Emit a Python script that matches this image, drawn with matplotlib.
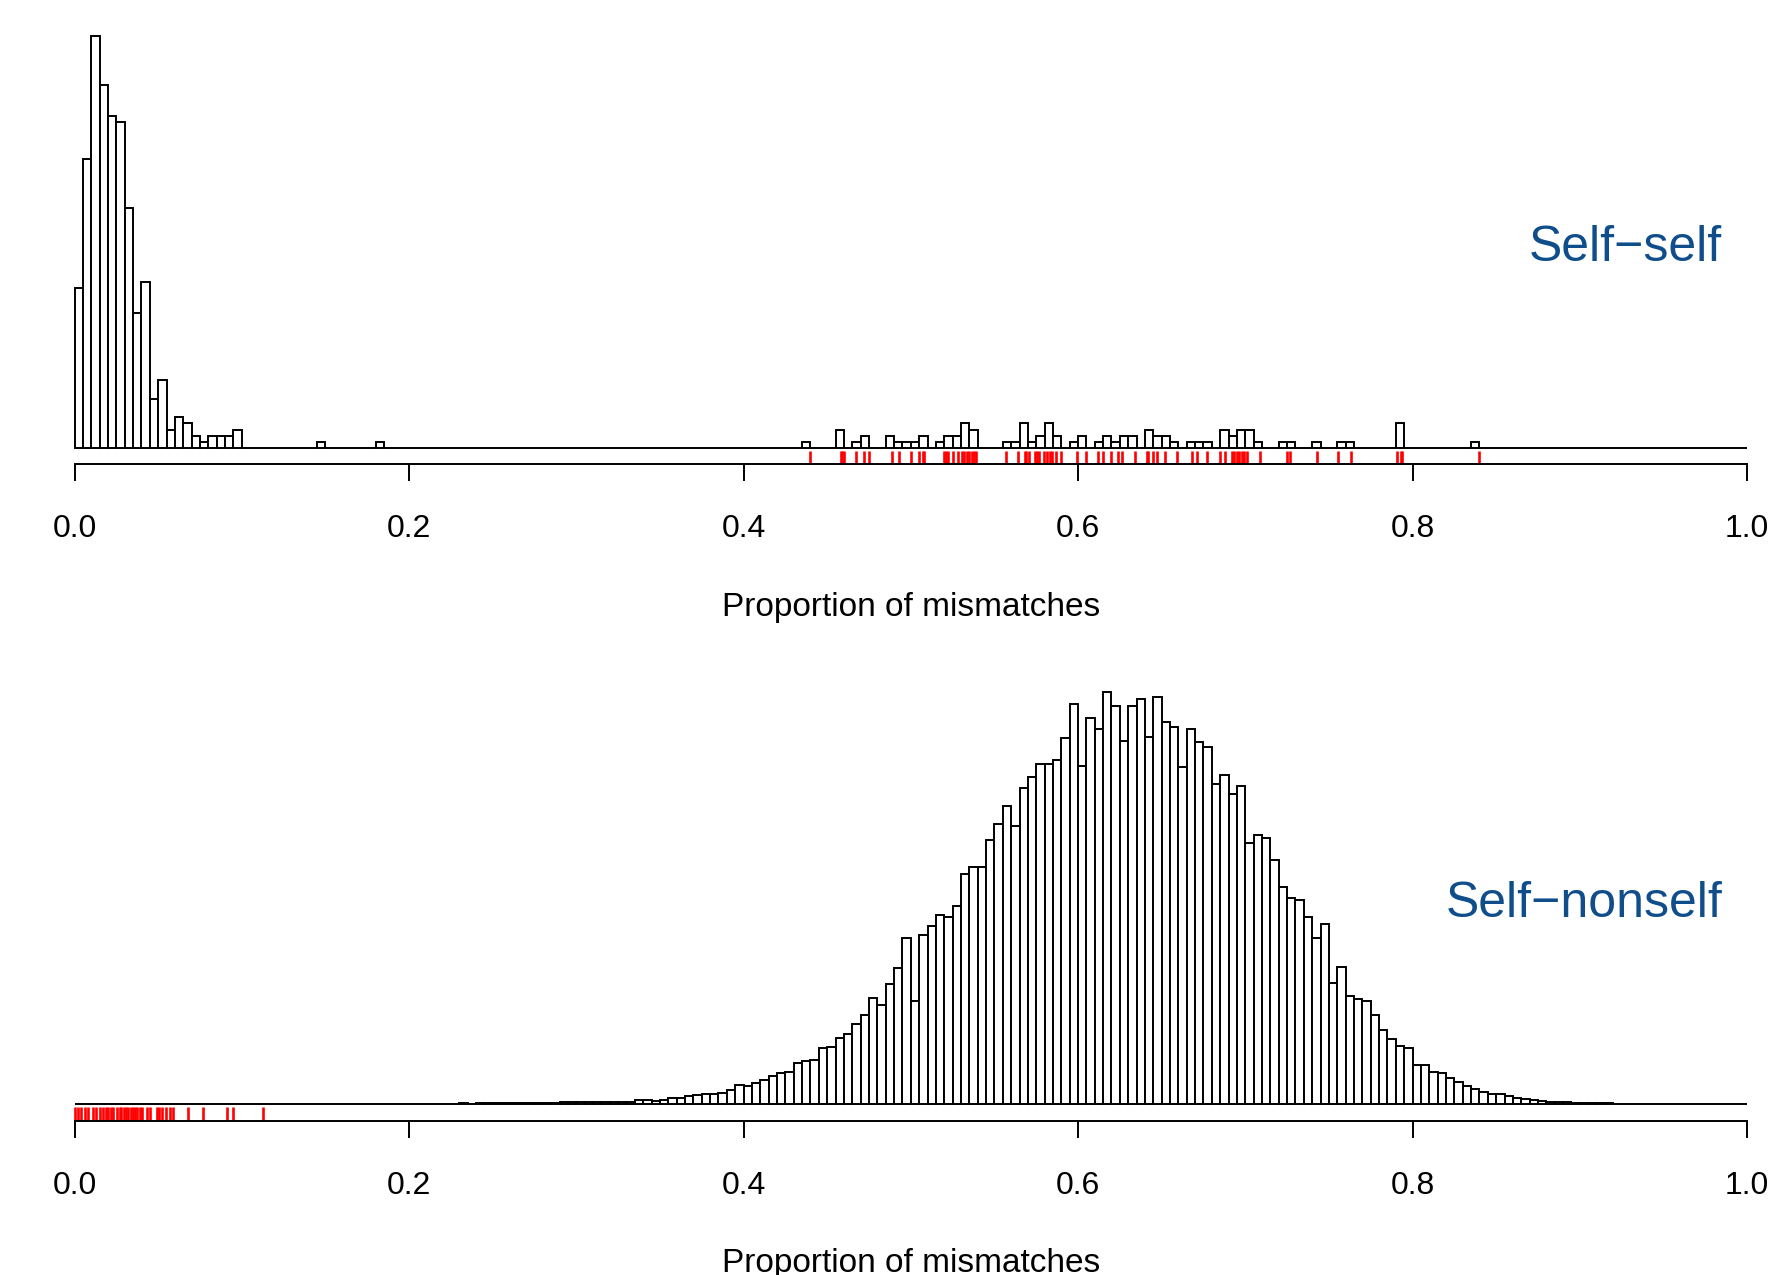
import numpy as np
import matplotlib.pyplot as plt
from matplotlib.transforms import blended_transform_factory

plt.rcParams['font.family'] = ['Liberation Sans', 'DejaVu Sans']

# histogram bins: 200 bins of width 0.005 over [0, 1]
bin_width = 0.005
n_bins = 200

# Self-self: left edge of each non-empty bin and its count
self_left = [0.000, 0.005, 0.010, 0.015, 0.020, 0.025, 0.030, 0.035, 0.040, 0.045,
             0.050, 0.055, 0.060, 0.065, 0.070, 0.075, 0.080, 0.085, 0.090, 0.095,
             0.145, 0.180,
             0.435, 0.455, 0.465, 0.470, 0.485, 0.490, 0.495, 0.500, 0.505,
             0.515, 0.520, 0.525, 0.530, 0.535,
             0.555, 0.560, 0.565, 0.570, 0.575, 0.580, 0.585,
             0.595, 0.600, 0.610, 0.615, 0.620, 0.625, 0.630,
             0.640, 0.645, 0.650, 0.655, 0.665, 0.670, 0.675,
             0.685, 0.690, 0.695, 0.700, 0.705,
             0.720, 0.725, 0.740, 0.755, 0.760, 0.790, 0.835]
self_counts = [26, 47, 67, 59, 54, 53, 39, 22, 27, 8,
               11, 3, 5, 4, 2, 1, 2, 2, 2, 3,
               1, 1,
               1, 3, 1, 2, 2, 1, 1, 1, 2,
               1, 2, 2, 4, 3,
               1, 1, 4, 1, 2, 4, 2,
               1, 2, 1, 2, 1, 2, 2,
               3, 2, 2, 1, 1, 1, 1,
               3, 2, 3, 3, 1,
               1, 1, 1, 1, 1, 4, 1]

# Self-nonself: contiguous counts starting at bin 0.180
nonself_first_left = 0.180
nonself_counts = [1, 1, 1, 1, 1, 1, 1, 1,
                  1, 1, 2, 1, 2, 2, 2,
                  2, 3, 2, 3, 3, 4, 4, 5,
                  5, 6, 6, 5, 7, 6,
                  7, 5, 11, 11, 10, 13, 17, 17, 23, 28, 29, 31, 34, 43, 57, 53, 63, 73, 83, 93,
                  96, 123, 128, 133, 167, 171, 197, 210, 240, 266,
                  318, 298, 361, 407, 497, 308, 507, 534, 566, 562, 593, 691, 712, 712, 793,
                  840, 894, 833, 949, 980, 1020, 1021, 1032, 1099, 1201, 1014, 1158, 1125, 1238, 1194,
                  1090, 1195, 1216, 1102, 1222, 1145, 1132, 1010, 1125, 1086, 1072, 959, 987, 931, 953,
                  784, 806, 797, 733, 652, 619, 611, 561, 497, 540, 363, 412, 324, 315, 310,
                  266, 222, 195, 174, 167, 118, 117, 97, 94, 79, 66, 54, 45, 37, 29, 29, 24, 19,
                  15, 12, 9, 6, 6, 5, 4, 3, 3, 2, 2, 1, 1, 1, 1, 1, 1, 1]

# rug values (red ticks)
rug_top = [0.440, 0.458, 0.459, 0.460, 0.467, 0.472, 0.475, 0.489, 0.493, 0.500,
           0.505, 0.507, 0.508, 0.520, 0.521, 0.5225, 0.5255, 0.528, 0.5305, 0.532,
           0.5335, 0.535, 0.5365, 0.538, 0.539, 0.557, 0.564, 0.568, 0.569, 0.5705,
           0.5745, 0.5755, 0.5765, 0.5795, 0.5815, 0.583, 0.5845, 0.587, 0.590, 0.5995,
           0.605, 0.612, 0.615, 0.620, 0.624, 0.626, 0.634, 0.641, 0.642, 0.645,
           0.647, 0.652, 0.659, 0.668, 0.671, 0.677, 0.685, 0.688, 0.692, 0.6935,
           0.695, 0.6965, 0.698, 0.6995, 0.701, 0.709, 0.725, 0.7265, 0.743, 0.7555,
           0.7635, 0.791, 0.793, 0.794, 0.840]
rug_bottom = [0.0005, 0.002, 0.004, 0.006, 0.008, 0.011, 0.013, 0.015, 0.017, 0.0185,
              0.020, 0.0215, 0.023, 0.0255, 0.027, 0.028, 0.0295, 0.031, 0.032, 0.0335,
              0.035, 0.036, 0.0375, 0.039, 0.0405, 0.043, 0.045, 0.049, 0.0505, 0.0525,
              0.0545, 0.057, 0.059, 0.068, 0.0765, 0.091, 0.0945, 0.1125]

labels = ["Self\u2212self", "Self\u2212nonself"]
xlabel = "Proportion of mismatches"
xticks = [0.0, 0.2, 0.4, 0.6, 0.8, 1.0]
label_color = "#104E8B"


def full_counts(lefts, counts):
    arr = np.zeros(n_bins)
    idx = np.round(np.asarray(lefts) / bin_width).astype(int)
    arr[idx] = counts
    return arr


edges = np.linspace(0, 1, n_bins + 1)
top_counts = full_counts(self_left, self_counts)
nonself_left = nonself_first_left + bin_width * np.arange(len(nonself_counts))
bottom_counts = full_counts(nonself_left, nonself_counts)

W, H = 1773, 1275
fig = plt.figure(figsize=(W / 100, H / 100), dpi=100)

x0_px, x1_px = 74.6, 1747.0
unit = x1_px - x0_px
xlim = (-x0_px / unit, (W - x0_px) / unit)

panels = [
    (top_counts, rug_top, labels[0], 464.5),
    (bottom_counts, rug_bottom, labels[1], 1120.5),
]
ax_h = 445.5 / H

for counts, rug, label, bottom_px in panels:
    ax = fig.add_axes([0, 1 - bottom_px / H, 1, ax_h])
    cmax = counts.max()
    ylo, yhi = -0.04 * cmax, 1.04 * cmax
    ax.bar(edges[:-1], counts, width=bin_width, align='edge',
           facecolor='white', edgecolor='black', linewidth=1.4)
    # rug ticks from the bottom of the plot region, 3% of its height
    ax.vlines(rug, ylo, ylo + 0.03 * (yhi - ylo), color='red', linewidth=1.9)
    ax.set_xlim(*xlim)
    ax.set_ylim(ylo, yhi)

    for side in ['top', 'left', 'right']:
        ax.spines[side].set_visible(False)
    ax.spines['bottom'].set_bounds(0, 1)
    ax.spines['bottom'].set_linewidth(1.4)
    ax.set_yticks([])
    ax.set_xticks(xticks)
    ax.set_xticklabels([f"{t:.1f}" for t in xticks])
    ax.tick_params(axis='x', direction='out', length=12.5, width=1.4,
                   pad=23.5, labelsize=23)

    trans = blended_transform_factory(ax.transData, ax.transAxes)
    ax.text(0.5, -0.322, xlabel, transform=trans, ha='center', va='center',
            fontsize=24)
    ax.text(0.9853, 0.457, label, transform=trans, ha='right', va='baseline',
            fontsize=36, color=label_color)

fig.savefig("out.png", dpi=100)
